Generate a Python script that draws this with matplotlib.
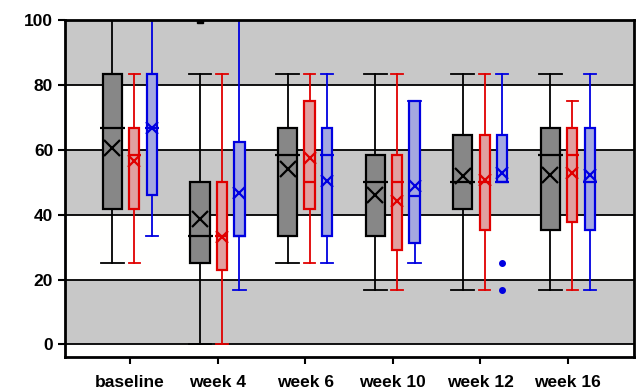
import numpy as np
from matplotlib import pyplot as plt

plt.rcParams['font.family'] = ['Liberation Sans', 'DejaVu Sans']
plt.rcParams['font.weight'] = 'bold'

labels = ["baseline", "week 4", "week 6", "week 10", "week 12", "week 16"]

# group 1 (black / gray)
blk_q1 = [41.7, 25.0, 33.3, 33.3, 41.7, 35.3]
blk_med = [66.7, 33.3, 58.3, 50.0, 50.0, 58.3]
blk_q3 = [83.3, 50.0, 66.7, 58.3, 64.5, 66.7]
blk_lo = [25.0, 0.0, 25.0, 16.7, 16.7, 16.7]
blk_hi = [100.0, 83.3, 83.3, 83.3, 83.3, 83.3]
blk_mean = [60.4, 38.6, 54.2, 46.1, 51.8, 52.3]
blk_fliers = [[], [100.0], [], [], [], []]

# group 2 (red)
red_q1 = [41.7, 22.9, 41.7, 29.1, 35.3, 37.6]
red_med = [58.3, 33.3, 50.0, 50.0, 50.0, 58.3]
red_q3 = [66.7, 50.0, 75.0, 58.3, 64.5, 66.7]
red_lo = [25.0, 0.0, 25.0, 16.7, 16.7, 16.7]
red_hi = [83.3, 83.3, 83.3, 83.3, 83.3, 75.0]
red_mean = [56.4, 33.0, 57.3, 44.1, 50.8, 52.8]
red_fliers = [[], [], [], [], [], []]

# group 3 (blue)
blu_q1 = [45.9, 33.3, 33.3, 31.4, 50.0, 35.3]
blu_med = [66.7, 33.3, 58.3, 45.8, 50.0, 50.0]
blu_q3 = [83.3, 62.3, 66.7, 75.0, 64.5, 66.7]
blu_lo = [33.3, 16.7, 25.0, 25.0, 50.0, 16.7]
blu_hi = [100.0, 100.0, 83.3, 75.0, 83.3, 83.3]
blu_mean = [66.7, 46.8, 50.5, 48.9, 52.9, 52.3]
blu_fliers = [[], [], [], [], [25.0, 16.7], []]

fig = plt.figure(figsize=(6.37, 3.89), dpi=100)
ax = fig.add_axes([0.102, 0.082, 0.893, 0.867])
ax.set_facecolor("#fffffe")

# background bands: gray 0-20, 40-60, 80-100, white in between and below 0
for y0 in [0, 40, 80]:
    ax.axhspan(y0, y0 + 20, facecolor="#c8c8c8", edgecolor="none", zorder=0.5)
for y0, y1 in [(-3.9, 0), (20, 40), (60, 80)]:
    ax.axhspan(y0, y1, facecolor="#fffffe", edgecolor="none", zorder=0.6)
for y in [0, 20, 40, 60, 80, 100]:
    ax.axhline(y, color="black", lw=1.3, zorder=1)

x = np.arange(len(labels))

groups = [
    (blk_q1, blk_med, blk_q3, blk_lo, blk_hi, blk_mean, blk_fliers, -0.2, 0.22, 0.26, "black", "#878787", 11),
    (red_q1, red_med, red_q3, red_lo, red_hi, red_mean, red_fliers, 0.05, 0.115, 0.13, "#e00000", "#e0a0a0", 8),
    (blu_q1, blu_med, blu_q3, blu_lo, blu_hi, blu_mean, blu_fliers, 0.25, 0.12, 0.14, "#0000e0", "#a4a8e0", 8),
]

for q1, med, q3, lo, hi, mean, fl, off, w, cw, ec, fc, ms in groups:
    stats = []
    for i in range(len(labels)):
        stats.append(dict(q1=q1[i], med=med[i], q3=q3[i], whislo=lo[i],
                          whishi=hi[i], mean=mean[i], fliers=fl[i]))
    pos = x + off
    ax.bxp(stats, positions=pos, widths=w, capwidths=cw, patch_artist=True,
           showmeans=False, manage_ticks=False,
           boxprops=dict(facecolor=fc, edgecolor=ec, lw=1.6),
           whiskerprops=dict(color=ec, lw=1.3),
           capprops=dict(color=ec, lw=1.3),
           medianprops=dict(visible=False),
           flierprops=dict(marker="s", markersize=4, markerfacecolor=ec,
                           markeredgecolor=ec) if ec == "black" else
                      dict(marker="o", markersize=4, markerfacecolor=ec,
                           markeredgecolor=ec),
           zorder=3)
    ax.hlines(med, pos - w * 0.65, pos + w * 0.65, color=ec, lw=1.6, zorder=4)
    ax.plot(pos, mean, "x", color=ec, markersize=ms, mew=1.6, zorder=5)

ax.set_xlim(-0.742, 5.753)
ax.set_ylim(-3.9, 100)
ax.set_yticks([0, 20, 40, 60, 80, 100])
ax.set_xticks(x)
ax.set_xticklabels(labels)
ax.tick_params(axis="both", labelsize=12.5, width=1.5, length=5, direction="out")
ax.tick_params(axis="x", pad=8)
for s in ax.spines.values():
    s.set_linewidth(2)
    s.set_zorder(6)

plt.savefig("out.png", dpi=100)
